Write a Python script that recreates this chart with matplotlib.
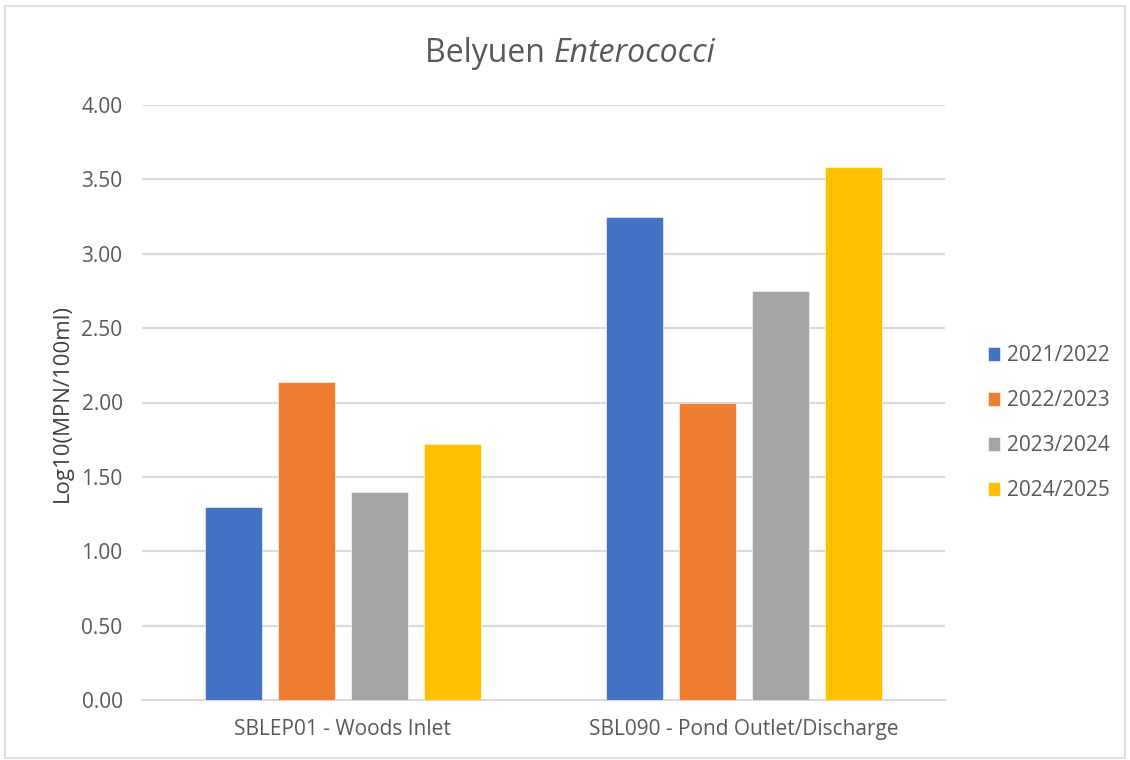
import matplotlib.pyplot as plt
import numpy as np
from matplotlib.patches import Rectangle

plt.rcParams['font.family'] = ['Open Sans', 'DejaVu Sans']

# Data
sites = ['SBLEP01 - Woods Inlet', 'SBL090 - Pond Outlet/Discharge']
seasons = ['2021/2022', '2022/2023', '2023/2024', '2024/2025']
v_2021 = [1.30, 3.25]
v_2022 = [2.14, 2.00]
v_2023 = [1.40, 2.75]
v_2024 = [1.72, 3.58]
yticks = [0.0, 0.5, 1.0, 1.5, 2.0, 2.5, 3.0, 3.5, 4.0]

colors = ['#4472C4', '#ED7D31', '#A5A5A5', '#FFC000']
series = [v_2021, v_2022, v_2023, v_2024]

fig = plt.figure(figsize=(11.3, 7.6), dpi=100)
ax = fig.add_axes([142 / 1130, 1 - 700 / 760, 803 / 1130, 595 / 760])

x = np.arange(len(sites))
pitch = 0.182
width = 0.142
for i, (vals, col, lab) in enumerate(zip(series, colors, seasons)):
    ax.bar(x + (i - 1.5) * pitch, vals, width=width, color=col, label=lab,
           edgecolor='white', linewidth=0.4, zorder=3)

ax.set_xlim(-0.5, 1.5)
ax.set_ylim(0, 4)
ax.set_yticks(yticks)
ax.set_yticklabels([f'{t:.2f}' for t in yticks])
ax.set_xticks(x)
ax.set_xticklabels(sites)
ax.tick_params(axis='both', length=0, labelsize=15, labelcolor='#595959')
ax.tick_params(axis='y', pad=14)
ax.tick_params(axis='x', pad=14)
ax.grid(axis='y', color='#d9d9d9', linewidth=1.5, zorder=0)
for s in ['top', 'right', 'left']:
    ax.spines[s].set_visible(False)
ax.spines['bottom'].set_color('#d9d9d9')
ax.spines['bottom'].set_linewidth(1.5)

ax.set_ylabel('Log10(MPN/100ml)', fontsize=16, color='#404040', labelpad=6)

fig.text(0.490, 1 - 62.5 / 760, 'Belyuen ', fontsize=23, color='#595959',
         ha='right', va='baseline')
fig.text(0.490, 1 - 62.5 / 760, 'Enterococci', fontsize=23, color='#595959',
         ha='left', va='baseline', style='italic')

leg = ax.legend(loc='center left', bbox_to_anchor=(1.03, 0.465), frameon=False,
                fontsize=15, handlelength=0.6, handleheight=0.6,
                handletextpad=0.3, labelspacing=1.15)
for t in leg.get_texts():
    t.set_color('#595959')

fig.patches.append(Rectangle((5 / 1130, 0.002), 1120 / 1130, 1 - 6 / 760 - 0.002,
                             transform=fig.transFigure, fill=False,
                             edgecolor='#d9d9d9', linewidth=1.2))

plt.savefig('out.png', dpi=100, facecolor='white')
plt.close()
